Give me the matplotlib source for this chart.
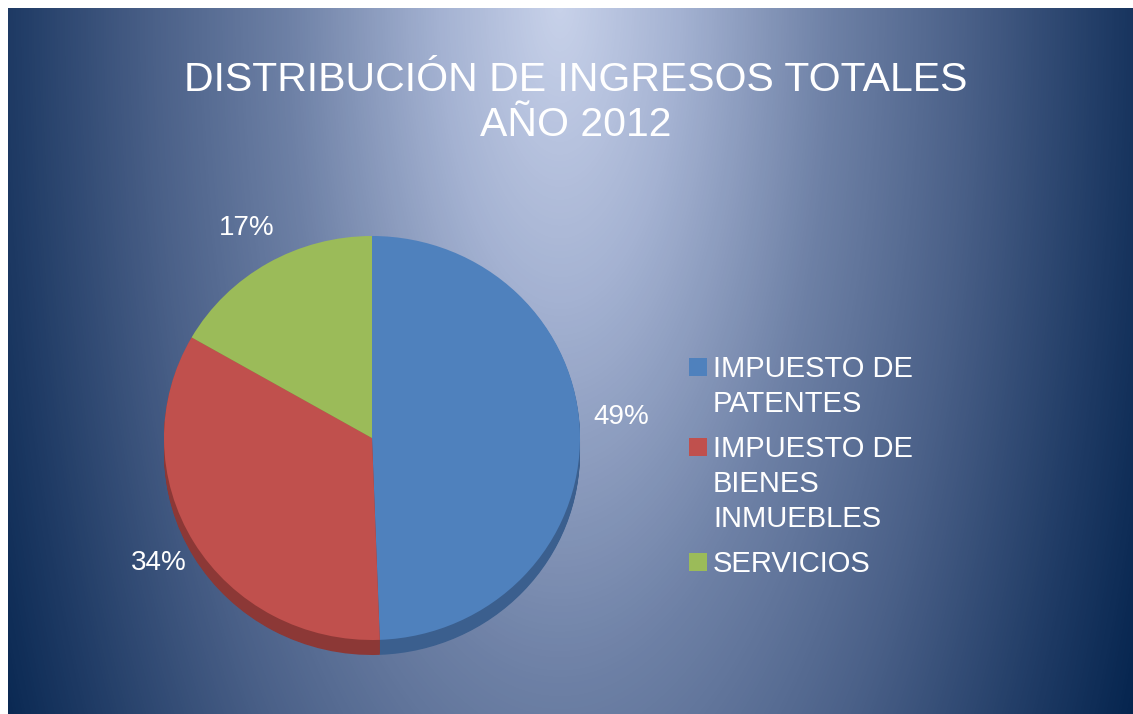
import numpy as np
import matplotlib
matplotlib.use("Agg")
from matplotlib import pyplot as plt
from matplotlib.colors import LinearSegmentedColormap, to_rgb
from matplotlib.patches import Rectangle

plt.rcParams['font.family'] = ['Liberation Sans', 'DejaVu Sans']

# data
titleLines = ["DISTRIBUCIÓN DE INGRESOS TOTALES", "AÑO 2012"]
categories = ["IMPUESTO DE\nPATENTES", "IMPUESTO DE\nBIENES\nINMUEBLES", "SERVICIOS"]
shares = [49.4, 33.9, 16.7]
colors = ["#4f81bd", "#c0504d", "#9bbb59"]
rimColors = ["#3b5f8e", "#8c3836", "#738b42"]

W, H = 1133, 714
fig = plt.figure(figsize=(W / 100, H / 100), dpi=100, facecolor='white')

# background: pixel coordinates, y pointing down
bg = fig.add_axes([0, 0, 1, 1])
bg.axis('off')

xs = np.arange(8, W) + 0.5
ys = np.arange(8, H) + 0.5
X, Y = np.meshgrid(xs, ys)
d = np.sqrt(((X - 560) / 600.0)**2 + (Y / 1500.0)**2)
stops = [(0.0, "#c8d2ea"), (0.2, "#a4b2d2"), (0.45, "#6e81a6"),
         (0.68, "#4a6088"), (0.92, "#1e3a64"), (1.1, "#00204a")]
cmap = LinearSegmentedColormap.from_list(
    "bg", [(s / 1.1, to_rgb(c)) for s, c in stops])
bg.imshow(np.clip(d, 0, 1.1), cmap=cmap, vmin=0, vmax=1.1,
          extent=(8, W, H, 8), aspect='auto', interpolation='bilinear')
bg.set_xlim(0, W)
bg.set_ylim(H, 0)

# title
for i, line in enumerate(titleLines):
    bg.text(576, 91 + i * 45, line, color='white', fontsize=29.5,
            ha='center', va='baseline')

# pie with a small 3D rim
cx, cy, rx, ry, depth = 372, 438, 208, 202, 15
pieAx = fig.add_axes([(cx - rx) / W, (H - cy - ry - depth) / H,
                      2 * rx / W, (2 * ry + depth) / H])
for k in range(depth, 0, -1):
    pieAx.pie(shares, colors=rimColors, startangle=90, counterclock=False,
              center=(0, -k / ry), wedgeprops=dict(linewidth=0))
wedges, texts, autotexts = pieAx.pie(
    shares, colors=colors, startangle=90, counterclock=False,
    autopct='%.0f%%', pctdistance=1.2,
    wedgeprops=dict(linewidth=0),
    textprops=dict(color='white', fontsize=20))
pieAx.set_aspect('auto')
pieAx.set_xlim(-1, 1)
pieAx.set_ylim(-1 - depth / ry, 1)
pieAx.axis('off')
# Excel nudged the first label a little upwards
autotexts[0].set_y(autotexts[0].get_position()[1] + 0.08)

# legend
y = 367
for label, col in zip(categories, colors):
    bg.add_patch(Rectangle((689, y - 9), 18, 18, facecolor=col, edgecolor='none'))
    for j, line in enumerate(label.split("\n")):
        bg.text(713, y + 10 + j * 35, line, color='white', fontsize=21,
                ha='left', va='baseline')
    y += len(label.split("\n")) * 35 + 10

fig.savefig("out.png", dpi=100, facecolor='white')
